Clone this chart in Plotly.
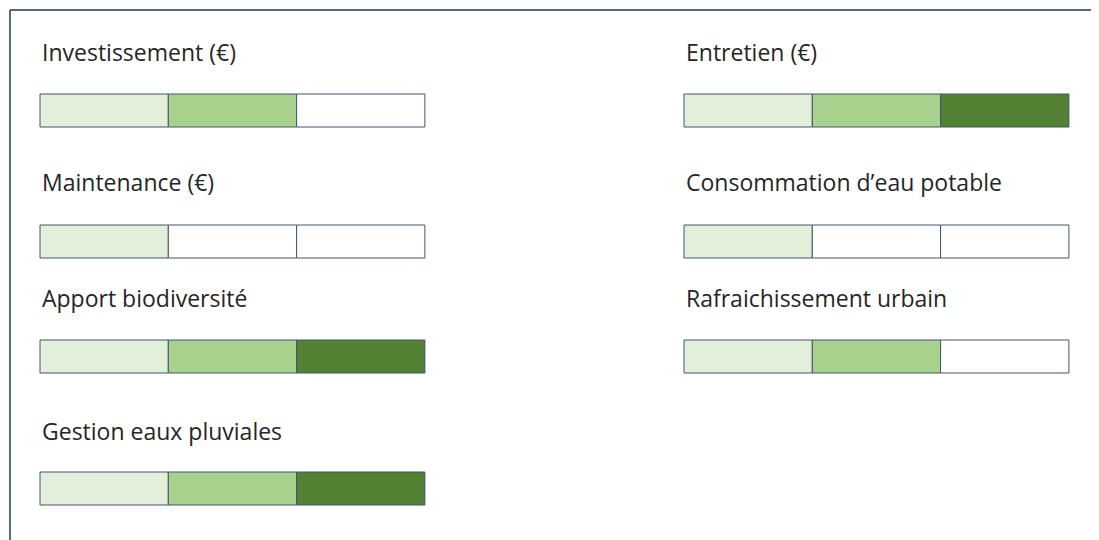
import plotly.graph_objects as go

# Data
indicators = ["Investissement (€)", "Entretien (€)", "Maintenance (€)",
              "Consommation d’eau potable", "Apport biodiversité",
              "Rafraichissement urbain", "Gestion eaux pluviales"]
levels = [2, 3, 1, 1, 3, 2, 3]          # number of filled cells (out of 3)
columns = [0, 1, 0, 1, 0, 1, 0]          # 0 = left, 1 = right
rows = [0, 0, 1, 1, 2, 2, 3]
n_cells = 3

# Styles / layout (coordinates in reference pixel space)
W, H = 1099, 540
BODY = 8  # browser default body margin
cell_colors = ["#E2EFDA", "#A9D18E", "#548235"]
empty_color = "#FFFFFF"
edge_color = "#44546A"
col_x0 = [40, 684]
cell_w = 128.3
bar_h = 33
row_bar_y = [110.5, 241.5, 356.5, 488.5]
row_title_y = [52, 182, 298, 431]
title_dx = 0

fig = go.Figure()
for k, name in enumerate(indicators):
    c, r = columns[k], rows[k]
    for i in range(n_cells):
        col = cell_colors[i] if i < levels[k] else empty_color
        fig.add_trace(go.Bar(
            orientation="h", y=[row_bar_y[r]], x=[cell_w],
            base=[col_x0[c] + i * cell_w], width=[bar_h],
            marker=dict(color=col, line=dict(color=edge_color, width=1)),
            showlegend=False, hoverinfo="skip"))
    fig.add_annotation(x=col_x0[c] + title_dx, y=row_title_y[r], text=name,
                       xanchor="left", yanchor="middle", showarrow=False,
                       font=dict(family="Open Sans, Lato, sans-serif", size=23, color="#262626"))

# frame lines (top and left)
fig.add_shape(type="line", xref="x", yref="y", x0=10, x1=W, y0=10, y1=10,
              line=dict(color="#1F3864", width=1.5))
fig.add_shape(type="line", xref="x", yref="y", x0=10, x1=10, y0=10, y1=H,
              line=dict(color="#1F3864", width=1.5))

fig.update_layout(
    width=W - BODY, height=H - BODY, margin=dict(l=0, r=0, t=0, b=0),
    paper_bgcolor="white", plot_bgcolor="white", barmode="overlay",
    xaxis=dict(range=[BODY, W], visible=False, fixedrange=True),
    yaxis=dict(range=[H, BODY], visible=False, fixedrange=True),
)
fig.write_html("out.html")
